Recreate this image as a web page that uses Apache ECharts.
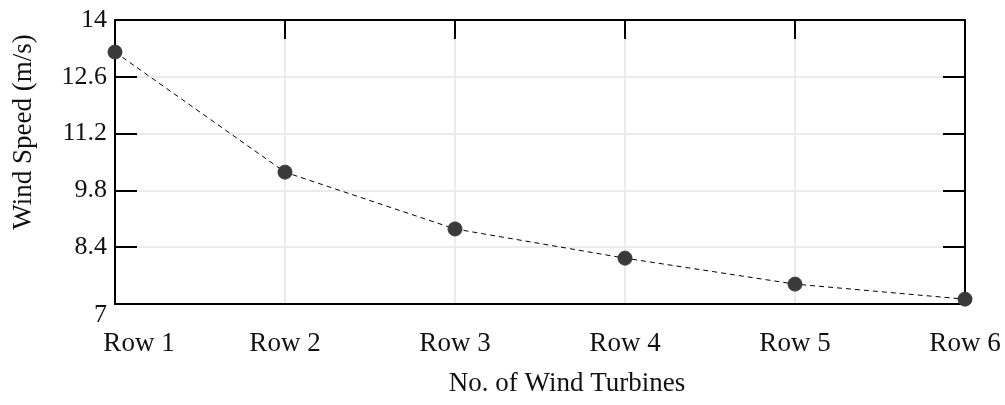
<!DOCTYPE html>
<html>
<head>
<meta charset="utf-8">
<script src="https://cdn.jsdelivr.net/npm/echarts@6/dist/echarts.min.js"></script>
<style>
    html, body { margin: 0; padding: 0; background: #fff; }
    #wind_speed { width: 1005px; height: 405px; }
</style>
</head>
<body>
<div id="wind_speed"></div>
<script>
// Chart data
var rows = ['Row 1', 'Row 2', 'Row 3', 'Row 4', 'Row 5', 'Row 6'];
var windSpeed = [13.21, 10.25, 8.85, 8.13, 7.49, 7.12];
var speedMin = 7;
var speedMax = 14;
var speedStep = 1.4;

var serif = '"Liberation Serif", "Times New Roman", serif';

// Tick label formatters
var fmtTick = function(v) {
    var s = String(parseFloat(v.toFixed(1)));
    return v === speedMin ? '{low|' + s + '}' : s;
};
var fmtRow = function(v, i) {
    return i === 0 ? '{first|' + v + '}' : v;
};

var wind_speed_element = document.getElementById('wind_speed');
var wind_speed = echarts.init(wind_speed_element);

wind_speed.setOption({
    animation: false,
    textStyle: {
        fontFamily: serif
    },
    grid: {
        left: 115,
        right: 40,
        top: 20,
        bottom: 101,
        containLabel: false,
        outerBoundsMode: 'none'
    },
    xAxis: [
        {
            type: 'category',
            boundaryGap: false,
            data: rows,
            position: 'bottom',
            name: 'No. of Wind Turbines',
            nameLocation: 'middle',
            nameGap: 66,
            nameTextStyle: {
                color: '#111',
                fontSize: 27,
                fontFamily: serif,
                padding: [0, 0, 0, 54]
            },
            axisLine: {
                lineStyle: { color: '#000', width: 2 }
            },
            axisTick: { show: false },
            axisLabel: {
                interval: 0,
                hideOverlap: false,
                color: '#111',
                fontSize: 27,
                fontFamily: serif,
                margin: 26,
                formatter: fmtRow,
                rich: {
                    first: {
                        color: '#111',
                        fontSize: 27,
                        fontFamily: serif,
                        padding: [0, 0, 0, 48]
                    }
                }
            },
            splitLine: {
                show: true,
                interval: 0,
                lineStyle: { color: '#ebebeb', width: 2 }
            }
        },
        {
            type: 'category',
            boundaryGap: false,
            data: rows,
            position: 'top',
            axisLine: {
                lineStyle: { color: '#000', width: 2 }
            },
            axisTick: {
                show: true,
                interval: 0,
                inside: true,
                length: 19,
                lineStyle: { color: '#000', width: 2 }
            },
            axisLabel: { show: false },
            splitLine: { show: false }
        }
    ],
    yAxis: [
        {
            type: 'value',
            min: speedMin,
            max: speedMax,
            interval: speedStep,
            position: 'left',
            name: 'Wind Speed (m/s)',
            nameLocation: 'middle',
            nameGap: 78,
            nameTextStyle: {
                color: '#111',
                fontSize: 27,
                fontFamily: serif,
                padding: [0, 0, 0, 60]
            },
            axisLine: {
                show: true,
                lineStyle: { color: '#000', width: 2 }
            },
            axisTick: {
                show: true,
                inside: true,
                length: 22,
                lineStyle: { color: '#000', width: 2 }
            },
            axisLabel: {
                color: '#111',
                fontSize: 26,
                fontFamily: serif,
                margin: 8,
                formatter: fmtTick,
                rich: {
                    low: {
                        color: '#111',
                        fontSize: 26,
                        fontFamily: serif,
                        padding: [22, 0, 0, 0]
                    }
                }
            },
            splitLine: {
                show: true,
                lineStyle: { color: '#ebebeb', width: 2 }
            }
        },
        {
            type: 'value',
            min: speedMin,
            max: speedMax,
            interval: speedStep,
            position: 'right',
            axisLine: {
                show: true,
                lineStyle: { color: '#000', width: 2 }
            },
            axisTick: {
                show: true,
                inside: true,
                length: 22,
                lineStyle: { color: '#000', width: 2 }
            },
            axisLabel: { show: false },
            splitLine: { show: false }
        }
    ],
    series: [
        {
            name: 'Wind Speed',
            type: 'line',
            data: windSpeed,
            symbol: 'circle',
            symbolSize: 14,
            itemStyle: {
                color: '#3a3a3a',
                borderColor: '#3a3a3a'
            },
            lineStyle: {
                color: '#000',
                width: 1,
                type: [5, 4]
            },
            z: 5
        }
    ]
});
</script>
</body>
</html>
